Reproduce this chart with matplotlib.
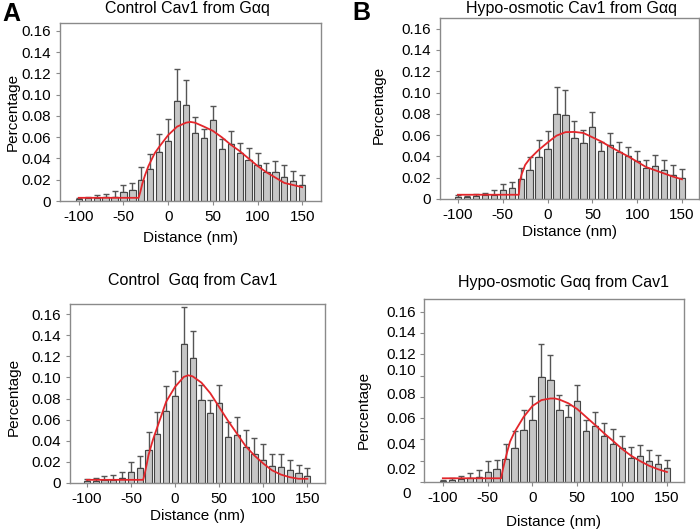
import matplotlib
matplotlib.use("Agg")
import matplotlib.pyplot as plt
import matplotlib.transforms as mtransforms
import numpy as np

plt.rcParams['font.family'] = ['Liberation Sans', 'DejaVu Sans']

# distance bins (nm)
dist = list(range(-100, 151, 10))

# A: Control Cav1 from Gaq
a_mean = [0.002, 0.003, 0.003, 0.0035, 0.004, 0.008, 0.010, 0.020, 0.030, 0.046, 0.056, 0.094, 0.090,
          0.064, 0.059, 0.076, 0.049, 0.054, 0.045, 0.039, 0.034, 0.027, 0.0275, 0.023, 0.019, 0.0155]
a_top = [0.003, 0.004, 0.006, 0.0065, 0.009, 0.015, 0.017, 0.032, 0.044, 0.063, 0.077, 0.124, 0.114,
         0.079, 0.068, 0.089, 0.058, 0.066, 0.055, 0.050, 0.045, 0.036, 0.038, 0.034, 0.028, 0.024]
a_fit_x = [-100, -33, -31, -29, -26, -22, -15, -10, 0, 10, 20, 25, 30, 40, 50, 60, 70, 80, 90, 100,
           110, 120, 130, 140, 150]
a_fit_y = [0.003, 0.003, 0.009, 0.016, 0.024, 0.033, 0.045, 0.051, 0.062, 0.070, 0.0737, 0.0744, 0.0737,
           0.070, 0.066, 0.060, 0.053, 0.047, 0.040, 0.033, 0.027, 0.022, 0.017, 0.015, 0.013]

# B: Hypo-osmotic Cav1 from Gaq
b_mean = [0.0015, 0.002, 0.003, 0.0035, 0.004, 0.008, 0.010, 0.019, 0.027, 0.039, 0.047, 0.080, 0.079,
          0.057, 0.053, 0.068, 0.045, 0.051, 0.044, 0.040, 0.036, 0.029, 0.031, 0.027, 0.023, 0.0195]
b_top = [0.0035, 0.003, 0.005, 0.006, 0.0085, 0.014, 0.016, 0.029, 0.039, 0.055, 0.064, 0.105, 0.102,
         0.073, 0.065, 0.082, 0.054, 0.062, 0.054, 0.049, 0.045, 0.037, 0.041, 0.037, 0.032, 0.028]
b_fit_x = [-100, -32, -31, -29, -25, -20, -10, 0, 10, 20, 30, 40, 50, 60, 70, 80, 90, 100, 110, 120,
           130, 140, 150]
b_fit_y = [0.004, 0.004, 0.016, 0.023, 0.032, 0.0377, 0.046, 0.053, 0.0595, 0.0628, 0.063, 0.062, 0.058,
           0.054, 0.049, 0.0445, 0.040, 0.035, 0.030, 0.027, 0.024, 0.021, 0.0185]

# C: Control Gaq from Cav1
c_mean = [0.0015, 0.002, 0.003, 0.003, 0.0045, 0.010, 0.0145, 0.031, 0.046, 0.068, 0.082, 0.1315, 0.1185,
          0.0785, 0.066, 0.0755, 0.044, 0.045, 0.034, 0.027, 0.022, 0.016, 0.015, 0.012, 0.009, 0.007]
c_top = [0.004, 0.005, 0.007, 0.0075, 0.010, 0.020, 0.0255, 0.048, 0.0675, 0.092, 0.106, 0.167, 0.1435,
         0.0925, 0.079, 0.093, 0.0575, 0.0625, 0.050, 0.043, 0.0365, 0.027, 0.027, 0.022, 0.0175, 0.0145]
c_fit_x = [-100, -36, -34, -32, -30, -25, -20, -10, 0, 10, 15, 20, 30, 40, 50, 60, 70, 80, 90, 100,
           110, 120, 130, 140, 150]
c_fit_y = [0.003, 0.003, 0.010, 0.018, 0.0265, 0.041, 0.053, 0.077, 0.091, 0.1005, 0.102, 0.101, 0.095,
           0.085, 0.072, 0.059, 0.047, 0.035, 0.026, 0.0185, 0.012, 0.008, 0.0055, 0.004, 0.004]

# D: Hypo-osmotic Gaq from Cav1
d_mean = [0.001, 0.002, 0.003, 0.0035, 0.0045, 0.009, 0.012, 0.022, 0.032, 0.0485, 0.0585, 0.099, 0.0955,
          0.068, 0.061, 0.076, 0.048, 0.0525, 0.043, 0.036, 0.032, 0.023, 0.024, 0.0195, 0.017, 0.013]
d_top = [0.002, 0.004, 0.006, 0.008, 0.0115, 0.0195, 0.021, 0.036, 0.048, 0.068, 0.081, 0.130, 0.119,
         0.082, 0.072, 0.0915, 0.0585, 0.066, 0.0555, 0.0495, 0.043, 0.033, 0.0345, 0.030, 0.025, 0.0205]
d_fit_x = [-100, -35, -33, -31, -28, -25, -20, -10, 0, 10, 20, 25, 30, 40, 50, 60, 70, 80, 90, 100,
           110, 120, 130, 140, 150]
d_fit_y = [0.0035, 0.0035, 0.012, 0.019, 0.029, 0.038, 0.047, 0.061, 0.0715, 0.077, 0.0785, 0.0785,
           0.0775, 0.074, 0.0685, 0.061, 0.0535, 0.0457, 0.0385, 0.031, 0.0247, 0.0197, 0.0153, 0.012, 0.0094]

yticks = [0, 0.02, 0.04, 0.06, 0.08, 0.10, 0.12, 0.14, 0.16]
ytick_labels = ['0', '0.02', '0.04', '0.06', '0.08', '0.10', '0.12', '0.14', '0.16']
xticks = [-100, -50, 0, 50, 100, 150]
# panel D has its y labels drawn off their ticks in the original
d_label_y = [-0.0116, 0.0113, 0.0347, 0.0589, 0.0817, 0.1042, 0.1192, 0.1396, 0.1584]

W, H = 700, 529
fig = plt.figure(figsize=(7.0, 5.29), dpi=100)

BAR = '#c6c6c6'
EDGE = '#454545'
RED = '#e3262b'
SPINE = '#8a8a8a'


def panel(box, mean, top, fx, fy, title, tpos, xlim, ymax, xlpad, ylc, offset_labels=None):
    l, t, r, b = box
    ax = fig.add_axes([l / W, 1 - b / H, (r - l) / W, (b - t) / H])
    err = [np.zeros(len(mean)), np.array(top) - np.array(mean)]
    ax.errorbar(dist, mean, yerr=err, fmt='none', ecolor='#555555', elinewidth=1.0,
                capsize=2.5, capthick=1.0, zorder=1)
    ax.bar(dist, mean, width=7, color=BAR, edgecolor=EDGE, linewidth=0.8, zorder=2)
    ax.plot(fx, fy, color=RED, lw=1.3, zorder=3)
    ax.set_xlim(*xlim)
    ax.set_ylim(0, ymax)
    ax.set_xticks(xticks)
    ax.set_xticklabels([str(v) for v in xticks], fontsize=11)
    ax.set_yticks(yticks)
    if offset_labels is None:
        ax.set_yticklabels(ytick_labels, fontsize=11)
    else:
        ax.set_yticklabels([])
        trans = mtransforms.blended_transform_factory(ax.transAxes, ax.transData)
        for lab, yy in zip(ytick_labels, offset_labels):
            xx = -0.05 if lab == '0' else -0.031
            ax.text(xx, yy, lab, transform=trans, ha='right', va='center', fontsize=11)
    for s in ax.spines.values():
        s.set_color(SPINE)
        s.set_linewidth(1.0)
    ax.tick_params(colors=SPINE, labelcolor='black', length=3, width=0.8)
    ax.set_xlabel('Distance (nm)', fontsize=11, labelpad=xlpad)
    ax.set_ylabel('Percentage', fontsize=11)
    ax.yaxis.set_label_coords(*ylc)
    fig.text(tpos[0] / W, 1 - tpos[1] / H, title, ha='center', va='center', fontsize=11.5)
    return ax


panel((60, 23, 321, 201), a_mean, a_top, a_fit_x, a_fit_y, 'Control Cav1 from G\u03b1q',
      (187, 8), (-121, 171), 0.1675, 5, (-0.153, 0.5))
panel((440, 18, 699, 199), b_mean, b_top, b_fit_x, b_fit_y, 'Hypo-osmotic Cav1 from G\u03b1q',
      (571, 8), (-120, 169), 0.170, 2, (-0.208, 0.52))
panel((70, 304, 325, 483), c_mean, c_top, c_fit_x, c_fit_y, 'Control  G\u03b1q from Cav1',
      (193, 281), (-119, 170), 0.1695, 2, (-0.192, 0.48))
panel((424, 299, 684, 482), d_mean, d_top, d_fit_x, d_fit_y, 'Hypo-osmotic G\u03b1q from Cav1',
      (563, 283), (-121, 169), 0.172, 7.5, (-0.204, 0.393), offset_labels=d_label_y)

fig.text(2 / W, 1 - 21 / H, 'A', fontsize=18, fontweight='bold', ha='left', va='baseline')
fig.text(352 / W, 1 - 20 / H, 'B', fontsize=18, fontweight='bold', ha='left', va='baseline')

fig.savefig('out.png', dpi=100)
